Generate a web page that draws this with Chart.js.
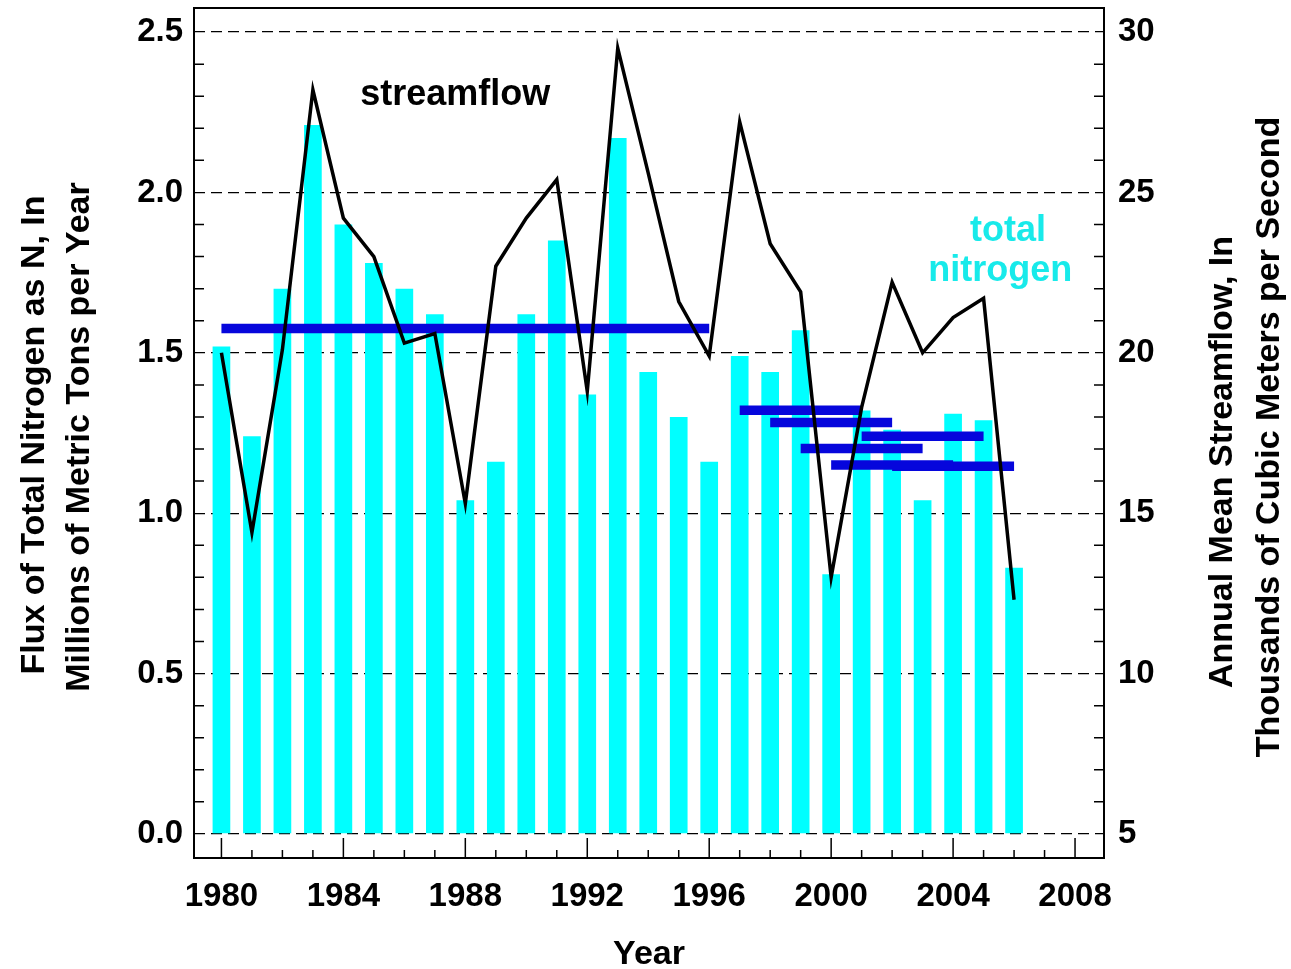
<!DOCTYPE html>
<html lang="en">
<head>
<meta charset="utf-8">
<title>Flux of total nitrogen and streamflow</title>
<script src="https://cdn.jsdelivr.net/npm/chart.js@4.4.1/dist/chart.umd.min.js"></script>
<style>
  html, body { margin: 0; padding: 0; background: #fff; }
  .chart-box { position: relative; width: 1291px; height: 969px; }
</style>
</head>
<body>
<div class="chart-box"><canvas id="flux-chart"></canvas></div>
<script>
// Годы наблюдений
const years = [1980, 1981, 1982, 1983, 1984, 1985, 1986, 1987, 1988, 1989,
  1990, 1991, 1992, 1993, 1994, 1995, 1996, 1997, 1998, 1999,
  2000, 2001, 2002, 2003, 2004, 2005, 2006];

// Поток общего азота, млн метрических тонн в год
const nitrogenFlux = [1.52, 1.24, 1.70, 2.21, 1.90, 1.78, 1.70, 1.62, 1.04, 1.16,
  1.62, 1.85, 1.37, 2.17, 1.44, 1.30, 1.16, 1.49, 1.44, 1.57,
  0.81, 1.32, 1.26, 1.04, 1.31, 1.29, 0.83];

// Среднегодовой расход, тыс. м3/с
const streamflow = [20.0, 14.4, 20.1, 28.2, 24.2, 23.0, 20.3, 20.6, 15.3, 22.7,
  24.2, 25.4, 18.8, 29.5, 25.6, 21.6, 19.9, 27.2, 23.4, 21.9,
  13.0, 18.3, 22.2, 20.0, 21.1, 21.7, 12.3];

// Средние значения потока по периодам
const meanStart = [1980, 1997, 1998, 1999, 2000, 2001, 2002];
const meanEnd = [1996, 2001, 2002, 2003, 2004, 2005, 2006];
const meanFlux = [1.576, 1.321, 1.283, 1.202, 1.150, 1.240, 1.146];

// Подписи делений
const yearTicks = [1980, 1984, 1988, 1992, 1996, 2000, 2004, 2008];
const fluxTicks = [0, 0.5, 1.0, 1.5, 2.0, 2.5];
const flowTicks = [5, 10, 15, 20, 25, 30];

document.addEventListener('DOMContentLoaded', () => {
  const FONT = '"Liberation Sans", Arial, Helvetica, sans-serif';
  const CYAN = '#00ffff';
  const BLUE = '#0606dc';

  /**
   * Рамка, внутренние засечки и подписи
   */
  const framePlugin = {
    id: 'framePlugin',
    afterDraw(chart) {
      const { ctx, chartArea: a, scales } = chart;
      ctx.save();

      // Засечки внутрь области графика
      ctx.strokeStyle = '#000';
      ctx.lineWidth = 1.5;
      ctx.beginPath();
      for (let yr = 1980; yr <= 2008; yr++) {
        const x = scales.x.getPixelForValue(yr);
        const len = yr % 4 === 0 ? 20 : 8;
        ctx.moveTo(x, a.bottom);
        ctx.lineTo(x, a.bottom - len);
      }
      for (let i = 1; i < 25; i++) {
        if (i % 5 === 0) continue;
        const y = scales.y.getPixelForValue(i / 10);
        ctx.moveTo(a.left, y);
        ctx.lineTo(a.left + 10, y);
      }
      for (let v = 6; v < 30; v++) {
        if (v % 5 === 0) continue;
        const y = scales.y2.getPixelForValue(v);
        ctx.moveTo(a.right, y);
        ctx.lineTo(a.right - 10, y);
      }
      ctx.stroke();

      // Рамка
      ctx.lineWidth = 2;
      ctx.strokeRect(a.left, a.top, a.right - a.left, a.bottom - a.top);

      // Заголовки осей
      ctx.fillStyle = '#000';
      ctx.font = `bold 34px ${FONT}`;
      ctx.textAlign = 'center';
      ctx.textBaseline = 'middle';
      ctx.fillText('Year', (a.left + a.right) / 2, 955);

      const rotated = (text, x, y) => {
        ctx.save();
        ctx.translate(x, y);
        ctx.rotate(-Math.PI / 2);
        ctx.fillText(text, 0, 0);
        ctx.restore();
      };
      rotated('Flux of Total Nitrogen as N, In', 35, 435);
      rotated('Millions of Metric Tons per Year', 80, 437);
      rotated('Annual Mean Streamflow, In', 1223, 462);
      rotated('Thousands of Cubic Meters per Second', 1270, 437);

      // Подписи рядов
      ctx.font = `bold 36px ${FONT}`;
      ctx.fillText('streamflow', scales.x.getPixelForValue(1987.67), scales.y.getPixelForValue(2.305));
      ctx.fillStyle = '#18eaea';
      ctx.fillText('total', scales.x.getPixelForValue(2005.8), scales.y.getPixelForValue(1.878));
      ctx.fillText('nitrogen', scales.x.getPixelForValue(2005.55), scales.y.getPixelForValue(1.754));

      ctx.restore();
    }
  };

  // Наборы данных
  const datasets = [{
    type: 'bar',
    label: 'total nitrogen',
    data: years.map((yr, i) => ({ x: yr, y: nitrogenFlux[i] })),
    backgroundColor: CYAN,
    borderWidth: 0,
    categoryPercentage: 1,
    barPercentage: 0.58,
    yAxisID: 'y',
    order: 3
  }];

  meanFlux.forEach((value, i) => {
    datasets.push({
      type: 'line',
      label: `mean ${meanStart[i]}-${meanEnd[i]}`,
      data: [{ x: meanStart[i], y: value }, { x: meanEnd[i], y: value }],
      borderColor: BLUE,
      borderWidth: 9.5,
      borderCapStyle: 'butt',
      pointRadius: 0,
      fill: false,
      yAxisID: 'y',
      order: 2
    });
  });

  datasets.push({
    type: 'line',
    label: 'streamflow',
    data: years.map((yr, i) => ({ x: yr, y: streamflow[i] })),
    borderColor: '#000',
    borderWidth: 3.5,
    borderJoinStyle: 'miter',
    pointRadius: 0,
    tension: 0,
    fill: false,
    yAxisID: 'y2',
    order: 1
  });

  const tickFont = { family: FONT, size: 33, weight: 'bold' };

  // Фиксированные размеры осей, чтобы область графика совпала с оригиналом
  const fitVertical = (width) => (scale) => {
    scale.width = width;
    scale.paddingTop = 0;
    scale.paddingBottom = 0;
  };

  new Chart(document.getElementById('flux-chart'), {
    type: 'bar',
    data: { datasets },
    options: {
      responsive: true,
      maintainAspectRatio: false,
      animation: false,
      layout: { padding: { top: 8, left: 0, right: 0, bottom: 0 } },
      plugins: {
        legend: { display: false },
        tooltip: { enabled: false }
      },
      scales: {
        x: {
          type: 'linear',
          position: 'bottom',
          offset: false,
          min: 1979.1,
          max: 2008.95,
          afterBuildTicks: (scale) => { scale.ticks = yearTicks.map(v => ({ value: v })); },
          afterFit: (scale) => {
            scale.height = 969 - 858;
            scale.paddingLeft = 0;
            scale.paddingRight = 0;
          },
          grid: { display: false, drawTicks: false, offset: false },
          border: { display: false },
          ticks: {
            color: '#000',
            font: tickFont,
            padding: 19,
            autoSkip: false,
            maxRotation: 0,
            callback: (v) => String(v)
          }
        },
        y: {
          type: 'linear',
          position: 'left',
          min: -0.075,
          max: 2.575,
          afterBuildTicks: (scale) => { scale.ticks = fluxTicks.map(v => ({ value: v })); },
          afterFit: fitVertical(194),
          grid: { color: '#000', lineWidth: 1.3, drawTicks: false },
          border: { display: false, dash: [11, 6] },
          ticks: {
            color: '#000',
            font: tickFont,
            padding: 11,
            callback: (v) => v.toFixed(1)
          }
        },
        y2: {
          type: 'linear',
          position: 'right',
          min: 4.25,
          max: 30.75,
          afterBuildTicks: (scale) => { scale.ticks = flowTicks.map(v => ({ value: v })); },
          afterFit: fitVertical(1291 - 1104),
          grid: { display: false, drawTicks: false },
          border: { display: false },
          ticks: {
            color: '#000',
            font: tickFont,
            padding: 14,
            callback: (v) => String(v)
          }
        }
      }
    },
    plugins: [framePlugin]
  });
});
</script>
</body>
</html>
